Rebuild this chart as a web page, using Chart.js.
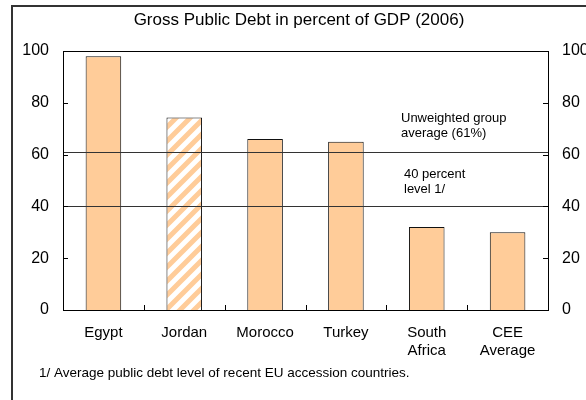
<!DOCTYPE html>
<html>
<head>
<meta charset="utf-8">
<title>Gross Public Debt</title>
<script src="https://cdn.jsdelivr.net/npm/chart.js@4.4.1/dist/chart.umd.min.js"></script>
<style>
  html, body { margin: 0; padding: 0; background: #fff; }
  #wrap { position: relative; width: 586px; height: 400px; }
</style>
</head>
<body>
<div id="wrap"><canvas id="debtChart" width="586" height="400"></canvas></div>
<script>
// debt-to-GDP ratios, 2006
const countries = [['Egypt'], ['Jordan'], ['Morocco'], ['Turkey'], ['South', 'Africa'], ['CEE', 'Average']];
const debtRatio = [98, 74.3, 66, 65, 32, 30];
const hatchedIndex = 1; // Jordan drawn with stripes
const groupAverage = 61;
const euLevel = 40;
const yTicks = [0, 20, 40, 60, 80, 100];
const avgNote = ['Unweighted group', 'average (61%)'];
const euNote = ['40 percent', 'level 1/'];
const footnote = '1/ Average public debt level of recent EU accession countries.';

const FONT = "'Liberation Sans', Arial, sans-serif";
const BAR_FILL = '#FFCC99';
Chart.defaults.font.family = FONT;
Chart.defaults.color = '#000';

function stripes() {
  const c = document.createElement('canvas');
  c.width = 14; c.height = 14;
  const g = c.getContext('2d');
  g.fillStyle = '#fff';
  g.fillRect(0, 0, 14, 14);
  g.strokeStyle = BAR_FILL;
  g.lineWidth = 5;
  g.beginPath();
  g.moveTo(-7, 7); g.lineTo(7, -7);
  g.moveTo(0, 14); g.lineTo(14, 0);
  g.moveTo(7, 21); g.lineTo(21, 7);
  g.stroke();
  return g.createPattern(c, 'repeat');
}

// frame, inward ticks, reference lines and notes
const decor = {
  id: 'decor',
  beforeDraw(chart) {
    const ctx = chart.ctx;
    ctx.save();
    ctx.strokeStyle = '#333';
    ctx.lineWidth = 2;
    ctx.beginPath();
    ctx.moveTo(12, chart.height);
    ctx.lineTo(12, 6);
    ctx.lineTo(chart.width, 6);
    ctx.stroke();
    ctx.restore();
  },
  afterDatasetsDraw(chart) {
    const { ctx, chartArea: a, scales } = chart;
    const y = scales.y, x = scales.x;
    ctx.save();

    ctx.strokeStyle = '#333';
    ctx.lineWidth = 1;
    [groupAverage, euLevel].forEach(v => {
      const py = Math.round(y.getPixelForValue(v)) + 0.5;
      ctx.beginPath();
      ctx.moveTo(a.left, py);
      ctx.lineTo(a.right, py);
      ctx.stroke();
    });

    ctx.strokeStyle = '#000';
    ctx.strokeRect(Math.round(a.left) + 0.5, Math.round(a.top) + 0.5,
      Math.round(a.right - a.left), Math.round(a.bottom - a.top));

    ctx.beginPath();
    yTicks.forEach(v => {
      const py = Math.round(y.getPixelForValue(v)) + 0.5;
      ctx.moveTo(a.left, py); ctx.lineTo(a.left + 5, py);
      ctx.moveTo(a.right, py); ctx.lineTo(a.right - 5, py);
    });
    for (let i = 0; i < countries.length - 1; i++) {
      const px = Math.round((x.getPixelForTick(i) + x.getPixelForTick(i + 1)) / 2) + 0.5;
      ctx.moveTo(px, a.bottom); ctx.lineTo(px, a.bottom - 5);
    }
    ctx.stroke();

    ctx.fillStyle = '#000';
    ctx.font = '13px ' + FONT;
    ctx.textAlign = 'left';
    ctx.textBaseline = 'middle';
    ctx.fillText(avgNote[0], a.left + 338, y.getPixelForValue(74));
    ctx.fillText(avgNote[1], a.left + 338, y.getPixelForValue(68.3));
    ctx.fillText(euNote[0], a.left + 341, y.getPixelForValue(52.4));
    ctx.fillText(euNote[1], a.left + 341, y.getPixelForValue(46.7));

    ctx.font = '13.5px ' + FONT;
    ctx.fillText(footnote, a.left - 24, a.bottom + 63);
    ctx.restore();
  }
};

const hatch = stripes();
const sideAxis = (pos, w) => ({
  position: pos,
  min: 0,
  max: 100,
  afterBuildTicks: s => { s.ticks = yTicks.map(v => ({ value: v })); },
  grid: { display: false, drawTicks: false },
  border: { display: false },
  ticks: { color: '#000', font: { size: 16 }, padding: 14 },
  afterFit: s => { s.width = w; }
});

new Chart(document.getElementById('debtChart'), {
  type: 'bar',
  data: {
    labels: countries,
    datasets: [{
      data: debtRatio,
      backgroundColor: debtRatio.map((v, i) => i === hatchedIndex ? hatch : BAR_FILL),
      borderColor: '#111',
      borderWidth: 1,
      barPercentage: 0.44,
      categoryPercentage: 1
    }]
  },
  options: {
    responsive: false,
    animation: false,
    layout: { padding: { left: 12, top: 0, right: 0, bottom: 0 } },
    plugins: {
      legend: { display: false },
      tooltip: { enabled: false },
      title: {
        display: true,
        text: 'Gross Public Debt in percent of GDP (2006)',
        color: '#000',
        font: { size: 17, weight: 'normal', lineHeight: 1.2 },
        padding: { top: 10, bottom: 20.6 }
      }
    },
    scales: {
      x: {
        grid: { display: false, drawTicks: false },
        border: { display: false },
        ticks: { color: '#000', font: { size: 15, lineHeight: 1.25 }, padding: 13, maxRotation: 0, autoSkip: false },
        afterFit: s => { s.height = 90; }
      },
      y: sideAxis('left', 51),
      y2: sideAxis('right', 38)
    }
  },
  plugins: [decor]
});
</script>
</body>
</html>
